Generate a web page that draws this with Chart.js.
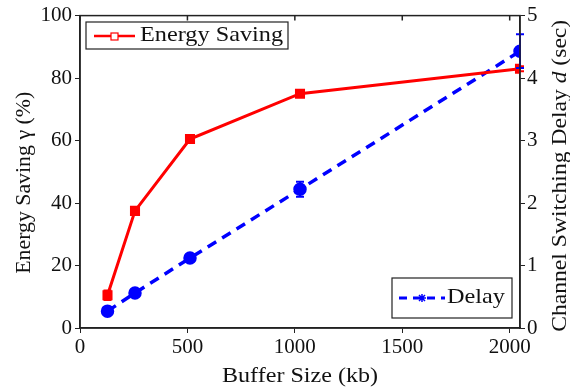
<!DOCTYPE html>
<html>
<head>
<meta charset="utf-8">
<script src="https://cdn.jsdelivr.net/npm/chart.js@4/dist/chart.umd.min.js"></script>
<style>
  html, body { margin: 0; padding: 0; background: #fff; }
  #wrap { width: 570px; height: 390px; }
</style>
</head>
<body>
<div id="wrap"><canvas id="c" width="570" height="390"></canvas></div>
<script>
const bufferSizes = [128, 256, 512, 1024, 2048];
const energySaving = [10.5, 37.5, 60.5, 75, 83];
const energyErr = [1.5, 1.0, 0.7, 0.5, 0.8];
const delaySec = [0.27, 0.56, 1.12, 2.22, 4.43];
const delayErr = [0.03, 0.03, 0.06, 0.12, 0.27];
const xTicks = [0, 500, 1000, 1500, 2000];

const FONT = "'Liberation Serif', 'DejaVu Serif', serif";
const AXIS = "#222";
const TEXT = "#111";

// draw a string stretched/squeezed to a given width (the reference font is wider than Times)
function fitText(ctx, str, x, y, width) {
    const w = ctx.measureText(str).width;
    ctx.save();
    ctx.translate(x, y);
    ctx.scale(width / w, 1);
    ctx.fillText(str, 0, 0);
    ctx.restore();
}

// error bars, top ticks, frame, axis titles and the two boxed legends
const extras = {
    id: "extras",
    afterDatasetsDraw(chart) {
        const { ctx, chartArea: a, scales } = chart;
        const x = scales.x;
        const bars = [
            { yScale: scales.y, vals: energySaving, err: energyErr, color: "#ff0000" },
            { yScale: scales.y2, vals: delaySec, err: delayErr, color: "#0000ff" }
        ];
        ctx.save();
        bars.forEach(b => {
            ctx.strokeStyle = b.color;
            ctx.lineWidth = 2;
            bufferSizes.forEach((v, i) => {
                const px = x.getPixelForValue(v);
                const top = b.yScale.getPixelForValue(b.vals[i] + b.err[i]);
                const bot = b.yScale.getPixelForValue(b.vals[i] - b.err[i]);
                ctx.beginPath();
                ctx.moveTo(px, top); ctx.lineTo(px, bot);
                ctx.moveTo(px - 4, top); ctx.lineTo(px + 4, top);
                ctx.moveTo(px - 4, bot); ctx.lineTo(px + 4, bot);
                ctx.stroke();
            });
        });

        // frame
        ctx.strokeStyle = AXIS;
        ctx.lineWidth = 1.5;
        ctx.strokeRect(a.left, a.top, a.right - a.left, a.bottom - a.top);
        ctx.beginPath();
        xTicks.forEach(t => {
            const px = x.getPixelForValue(t);
            ctx.moveTo(px, a.top); ctx.lineTo(px, a.top + 5);
        });
        ctx.stroke();

        // axis titles
        ctx.fillStyle = TEXT;
        ctx.font = "22px " + FONT;
        ctx.textBaseline = "middle";
        ctx.textAlign = "left";
        const midY = (a.top + a.bottom) / 2;
        ctx.save();
        ctx.translate(24, midY + 10);
        ctx.rotate(-Math.PI / 2);
        fitText(ctx, "Energy Saving γ (%)", -92, 0, 182);
        ctx.restore();

        ctx.save();
        ctx.translate(560, midY + 4);
        ctx.rotate(-Math.PI / 2);
        const parts = [["Channel Switching Delay ", "22px "], ["d", "italic 22px "], [" (sec)", "22px "]];
        let total = 0;
        parts.forEach(p => { ctx.font = p[1] + FONT; total += ctx.measureText(p[0]).width; });
        ctx.scale(312 / total, 1);
        let cx = -total / 2;
        parts.forEach(p => {
            ctx.font = p[1] + FONT;
            ctx.fillText(p[0], cx, 0);
            cx += ctx.measureText(p[0]).width;
        });
        ctx.restore();

        ctx.font = "22px " + FONT;
        fitText(ctx, "Buffer Size (kb)", 222, 376, 156);

        // legend: Energy Saving
        ctx.fillStyle = "#fff";
        ctx.lineWidth = 1.2;
        ctx.strokeStyle = AXIS;
        ctx.fillRect(86, 22, 202, 27);
        ctx.strokeRect(86, 22, 202, 27);
        ctx.strokeStyle = "#ff0000";
        ctx.lineWidth = 2.5;
        ctx.beginPath(); ctx.moveTo(94, 36); ctx.lineTo(135, 36); ctx.stroke();
        ctx.lineWidth = 1.2;
        ctx.fillStyle = "#fff";
        ctx.fillRect(111, 33, 7, 7);
        ctx.strokeRect(111, 33, 7, 7);
        ctx.fillStyle = TEXT;
        ctx.font = "22px " + FONT;
        fitText(ctx, "Energy Saving", 140, 35, 143);

        // legend: Delay
        ctx.fillStyle = "#fff";
        ctx.strokeStyle = AXIS;
        ctx.fillRect(392, 278, 120, 40);
        ctx.strokeRect(392, 278, 120, 40);
        ctx.strokeStyle = "#0000ff";
        ctx.lineWidth = 3;
        ctx.setLineDash([8, 6]);
        ctx.beginPath(); ctx.moveTo(399, 298); ctx.lineTo(445, 298); ctx.stroke();
        ctx.setLineDash([]);
        ctx.lineWidth = 1.5;
        ctx.beginPath();
        ctx.moveTo(418, 298); ctx.lineTo(426, 298);
        ctx.moveTo(422, 294); ctx.lineTo(422, 302);
        ctx.moveTo(419, 295); ctx.lineTo(425, 301);
        ctx.moveTo(425, 295); ctx.lineTo(419, 301);
        ctx.stroke();
        ctx.fillStyle = TEXT;
        fitText(ctx, "Delay", 447, 297, 58);
        ctx.restore();
    }
};

const tickFont = { family: FONT, size: 21 };

new Chart(document.getElementById("c"), {
    type: "line",
    data: {
        datasets: [{
            label: "Energy Saving",
            data: bufferSizes.map((v, i) => ({ x: v, y: energySaving[i] })),
            yAxisID: "y",
            borderColor: "#ff0000",
            backgroundColor: "#ff0000",
            borderWidth: 3,
            pointStyle: "rect",
            pointRadius: 5,
            tension: 0
        }, {
            label: "Delay",
            data: bufferSizes.map((v, i) => ({ x: v, y: delaySec[i] })),
            yAxisID: "y2",
            borderColor: "#0000ff",
            backgroundColor: "#0000ff",
            borderWidth: 3.5,
            borderDash: [10, 7],
            pointStyle: "circle",
            pointRadius: 5,
            tension: 0
        }]
    },
    options: {
        responsive: false,
        animation: false,
        layout: { padding: { top: 15, left: 0, right: 0, bottom: 0 } },
        plugins: { legend: { display: false }, tooltip: { enabled: false } },
        scales: {
            x: {
                type: "linear",
                min: 0,
                max: 2048,
                afterBuildTicks: s => { s.ticks = xTicks.map(v => ({ value: v })); },
                ticks: { color: TEXT, font: tickFont, padding: 2, maxRotation: 0, callback: v => String(v) },
                grid: { drawOnChartArea: false, color: AXIS, tickLength: 5 },
                border: { color: AXIS, width: 1.5 },
                afterFit: s => { s.height = 62; }
            },
            y: {
                position: "left",
                min: 0,
                max: 100,
                ticks: { stepSize: 20, color: TEXT, font: tickFont, padding: 3 },
                grid: { drawOnChartArea: false, color: AXIS, tickLength: 5 },
                border: { color: AXIS, width: 1.5 },
                afterFit: s => { s.width = 80; }
            },
            y2: {
                position: "right",
                min: 0,
                max: 5,
                ticks: { stepSize: 1, color: TEXT, font: tickFont, padding: 2 },
                grid: { drawOnChartArea: false, color: AXIS, tickLength: 5 },
                border: { color: AXIS, width: 1.5 },
                afterFit: s => { s.width = 50; }
            }
        }
    },
    plugins: [extras]
});
</script>
</body>
</html>
